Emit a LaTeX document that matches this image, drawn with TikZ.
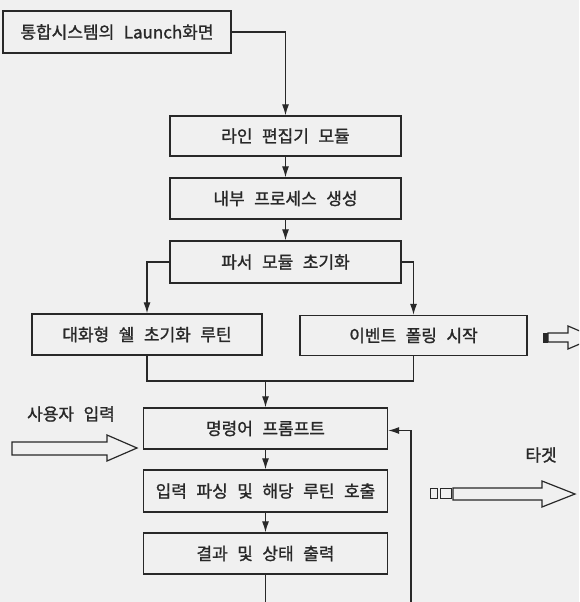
\documentclass[tikz,border=0pt]{standalone}
\usepackage{fontspec}
\setmainfont{Noto Sans CJK KR}[WordSpace=2.5,FakeBold=1.2]
\usetikzlibrary{arrows.meta}
\definecolor{bg}{RGB}{240,240,240}
\definecolor{ink}{RGB}{40,40,40}
\begin{document}
\begin{tikzpicture}[x=1pt,y=-1pt,
  box/.style={draw=ink, line width=1.3pt, rectangle, inner sep=0pt, text=ink,
    font=\fontsize{17}{19}\selectfont},
  conn/.style={draw=ink, line width=1.2pt},
  arr/.style={conn, -{Latex[length=11pt,width=7pt]}},
  hollow/.style={draw=ink, line width=1.2pt, fill=bg, line join=miter},
  sq/.style={draw=ink, line width=0.8pt, fill=bg},
  lbl/.style={text=ink, inner sep=0pt, font=\fontsize{17}{19}\selectfont}]
\fill[bg] (0,0) rectangle (579,602);
\useasboundingbox (0,0) rectangle (579,602);
\begin{scope}
\clip (0,0) rectangle (579,602);
% boxes
\node[box, minimum width=228pt, minimum height=42pt] (b1) at (117,32) {통합시스템의 Launch화면};
\node[box, minimum width=231pt, minimum height=40pt] (b2) at (285.5,136) {라인 편집기 모듈};
\node[box, minimum width=231pt, minimum height=41pt] (b3) at (285.5,198.5) {내부 프로세스 생성};
\node[box, minimum width=231pt, minimum height=42pt] (b4) at (285.5,262) {파서 모듈 초기화};
\node[box, minimum width=230pt, minimum height=41pt] (b5) at (147,334.5) {대화형 쉘 초기화 루틴};
\node[box, minimum width=227pt, minimum height=40pt] (b6) at (413.5,335.5) {이벤트 폴링 시작};
\node[box, minimum width=244pt, minimum height=41pt] (b7) at (265.5,428.5) {명령어 프롬프트};
\node[box, minimum width=244pt, minimum height=42pt] (b8) at (265.5,491) {입력 파싱 및 해당 루틴 호출};
\node[box, minimum width=244pt, minimum height=41pt] (b9) at (265.5,553.5) {결과 및 상태 출력};
% labels
\node[lbl] (uin) at (71,414) {사용자 입력};
\node[lbl] (tgt) at (541,455) {타겟};
% connectors
\draw[arr] (b1.east) -| (b2.north);
\draw[arr] (b2.south) -- (b3.north);
\draw[arr] (b3.south) -- (b4.north);
\draw[arr] (b4.west) -| (b5.north);
\draw[arr] (b4.east) -| (b6.north);
\coordinate (j) at (265.5,381);
\draw[conn] (b5.south) |- (j) -| (b6.south);
\draw[arr] (j) -- (b7.north);
\draw[arr] (b7.south) -- (b8.north);
\draw[arr] (b8.south) -- (b9.north);
\coordinate (bot) at (265.5,602);
\draw[conn] (b9.south) -- (bot);
\coordinate (fb) at (411,602);
\draw[arr] (fb) |- ([yshift=-2pt]b7.east);
% hollow arrows
\draw[hollow] (12,442) -- (107,442) -- (107,435) -- (137,448) -- (107,461) -- (107,455) -- (12,455) -- cycle;
\draw[hollow] (453,488) -- (542,488) -- (542,481) -- (575,494) -- (542,507) -- (542,500) -- (453,500) -- cycle;
\draw[sq] (430,488.5) rectangle (437,498.5);
\draw[sq] (440.5,488.5) rectangle (451,498.5);
\fill[ink] (543,333) rectangle (548,343);
\draw[hollow] (548,333) -- (568,333) -- (568,326) -- (595,337.5) -- (568,349) -- (568,342) -- (548,342) -- cycle;
\end{scope}
\end{tikzpicture}
\end{document}
